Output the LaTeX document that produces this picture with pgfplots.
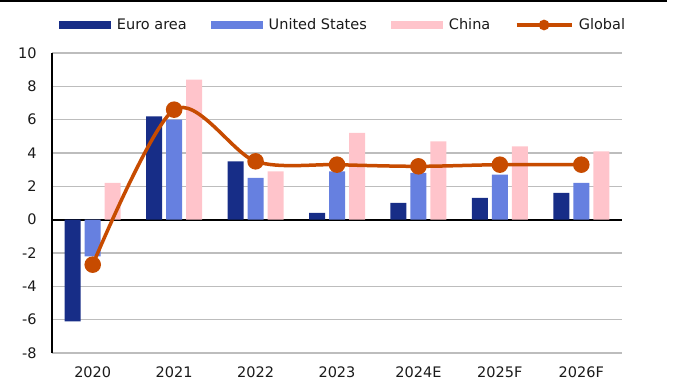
\documentclass[border=0pt]{standalone}
\usepackage{pgfplots}
\pgfplotsset{compat=1.18}
\usepackage{fontspec}
\setmainfont{DejaVu Sans}

\definecolor{euro}{HTML}{172D87}
\definecolor{usa}{HTML}{6680E0}
\definecolor{china}{HTML}{FFC4CB}
\definecolor{glob}{HTML}{C74B00}
\definecolor{gridgray}{HTML}{BDBDBD}
\definecolor{txt}{HTML}{1A1A1A}

\newcommand{\lblfont}{\fontsize{14.5bp}{17bp}\selectfont}

\begin{document}
\begin{tikzpicture}
\begin{axis}[
  name=ax,
  width=570bp, height=300bp, scale only axis,
  xmin=-0.5, xmax=6.5, ymin=-8, ymax=10,
  ytick={-8,-6,...,10},
  xtick={0,...,6},
  xticklabels={2020,2021,2022,2023,2024E,2025F,2026F},
  axis x line*=bottom, axis y line*=left,
  x axis line style={draw=none},
  y axis line style={black, line width=1.5bp, -},
  major tick length=0pt,
  ymajorgrids, grid style={gridgray, line width=1.2bp},
  extra y ticks={0}, extra y tick labels={},
  extra y tick style={grid style={black, line width=1.8bp}},
  tick label style={font=\lblfont, text=txt},
  /pgf/number format/assume math mode=true,
  yticklabel style={xshift=-12bp},
  xticklabel style={yshift=-10bp},
  bar width=16bp,
  legend columns=4,
  legend style={draw=none, fill=none, font=\lblfont, text=txt,
    at={(rel axis cs:0.5114,1.0933)}, anchor=center,
    inner sep=0pt, nodes={inner sep=2.5bp},
    /tikz/every odd column/.append style={column sep=3bp},
    /tikz/every even column/.append style={column sep=22bp}},
]
\addplot[ybar, fill=euro, draw=none, bar shift=-20bp,
  legend image code/.code={\fill[euro] (0bp,-4.25bp) rectangle (52bp,4.25bp);}]
  coordinates {(0,-6.1) (1,6.2) (2,3.5) (3,0.4) (4,1.0) (5,1.3) (6,1.6)};
\addlegendentry{Euro area}
\addplot[ybar, fill=usa, draw=none, bar shift=0bp,
  legend image code/.code={\fill[usa] (0bp,-4.25bp) rectangle (52bp,4.25bp);}]
  coordinates {(0,-2.2) (1,6.0) (2,2.5) (3,2.9) (4,2.8) (5,2.7) (6,2.2)};
\addlegendentry{United States}
\addplot[ybar, fill=china, draw=none, bar shift=20bp,
  legend image code/.code={\fill[china] (0bp,-4.25bp) rectangle (52bp,4.25bp);}]
  coordinates {(0,2.2) (1,8.4) (2,2.9) (3,5.2) (4,4.7) (5,4.4) (6,4.1)};
\addlegendentry{China}
\addplot[glob, line width=3.5bp, smooth, mark=*, mark size=6.5bp,
  mark options={fill=glob, draw=none},
  legend image code/.code={\draw[glob, line width=3.5bp] (0bp,0bp) -- (55bp,0bp);
    \fill[glob] (27.5bp,0bp) circle (3.5bp);}]
  coordinates {(0,-2.7) (1,6.6) (2,3.5) (3,3.3) (4,3.2) (5,3.3) (6,3.3)};
\addlegendentry{Global}
\end{axis}
% page frame fixed relative to the plot area
\pgfresetboundingbox
\path[use as bounding box] ([shift={(-52bp,-28bp)}]ax.south west)
  rectangle ([shift={(631bp,353bp)}]ax.south west);
\draw[black, line width=2bp] ([shift={(-52bp,352bp)}]ax.south west)
  -- ([shift={(615bp,352bp)}]ax.south west);
\end{tikzpicture}
\end{document}
